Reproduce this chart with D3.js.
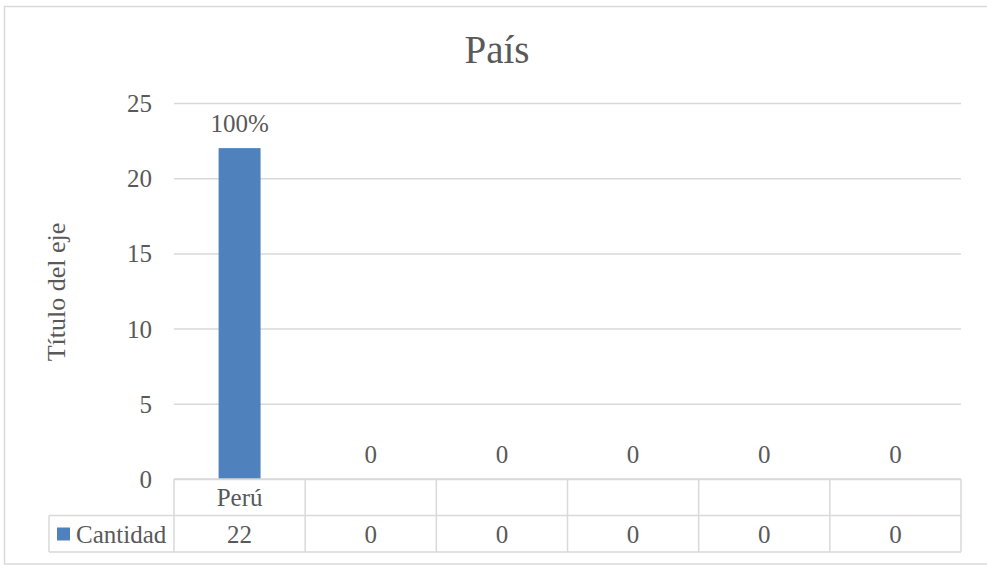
<!DOCTYPE html>
<html>
<head>
<meta charset="utf-8">
<script src="https://cdn.jsdelivr.net/npm/d3@7"></script>
<style>
  html, body { margin: 0; padding: 0; background: #fff; }
  svg text { font-family: "Liberation Serif", "Times New Roman", serif; fill: #595959; }
</style>
</head>
<body>
<svg id="chart" width="987" height="566" font-family="Liberation Serif, serif"></svg>
<script>
const title = "País";
const yAxisTitle = "Título del eje";
const seriesName = "Cantidad";
const categories = ["Perú", "", "", "", "", ""];
const values = [22, 0, 0, 0, 0, 0];
const dataLabels = ["100%", "0", "0", "0", "0", "0"];
const yTicks = [0, 5, 10, 15, 20, 25];

const svg = d3.select("#chart");
const plot = { left: 174, right: 961, top: 103, bottom: 479 };
const rowH = 36.5;
const grid = "#d9d9d9";
const fs = 25;

// outer border
svg.append("rect").attr("x", 4.5).attr("y", 6.5).attr("width", 990).attr("height", 557.5)
  .attr("fill", "#fff").attr("stroke", grid).attr("stroke-width", 1.5);

const idx = categories.map((d, i) => i);
const x = d3.scaleBand().domain(idx).range([plot.left, plot.right]).paddingInner(0).paddingOuter(0);
const y = d3.scaleLinear().domain([0, 25]).range([plot.bottom, plot.top]);

// gridlines + y labels via axis
const yAxis = d3.axisLeft(y).tickValues(yTicks).tickSize(-(plot.right - plot.left)).tickPadding(22);
const gy = svg.append("g").attr("transform", `translate(${plot.left},0)`).call(yAxis)
  .attr("font-family", null).attr("font-size", null);
gy.select(".domain").remove();
gy.selectAll(".tick line").attr("stroke", grid).attr("stroke-width", 1.5);
gy.selectAll(".tick text").attr("font-size", fs).attr("fill", "#595959").attr("dy", "0.34em");

// title
svg.append("text").attr("x", 497).attr("y", 63).attr("text-anchor", "middle")
  .attr("font-size", 39).text(title);

// y axis title
svg.append("text").attr("transform", `translate(65,292) rotate(-90)`)
  .attr("text-anchor", "middle").attr("font-size", 26).text(yAxisTitle);

// bars
const barW = x.bandwidth() * 0.32;
svg.append("g").selectAll("rect").data(values).join("rect")
  .attr("x", (d, i) => x(i) + (x.bandwidth() - barW) / 2)
  .attr("y", d => y(d))
  .attr("width", barW)
  .attr("height", d => y(0) - y(d))
  .attr("fill", "#4f81bd");

// data labels
svg.append("g").selectAll("text").data(values).join("text")
  .attr("x", (d, i) => x(i) + x.bandwidth() / 2)
  .attr("y", d => y(d) - 16)
  .attr("text-anchor", "middle").attr("font-size", fs)
  .text((d, i) => dataLabels[i]);

// data table
const t = svg.append("g").attr("stroke", grid).attr("stroke-width", 1.5).attr("fill", "none");
const legendLeft = 49;
const r1 = plot.bottom, r2 = plot.bottom + rowH, r3 = plot.bottom + 2 * rowH;
t.append("line").attr("x1", plot.left).attr("x2", plot.right).attr("y1", r1).attr("y2", r1);
t.append("line").attr("x1", legendLeft).attr("x2", plot.right).attr("y1", r2).attr("y2", r2);
t.append("line").attr("x1", legendLeft).attr("x2", plot.right).attr("y1", r3).attr("y2", r3);
t.append("line").attr("x1", legendLeft).attr("x2", legendLeft).attr("y1", r2).attr("y2", r3);
const edges = idx.map(i => x(i)).concat([plot.right]);
t.selectAll(".v").data(edges).join("line").attr("class", "v")
  .attr("x1", d => d).attr("x2", d => d).attr("y1", r1).attr("y2", r3);

// category row
svg.append("g").selectAll("text").data(categories).join("text")
  .attr("x", (d, i) => x(i) + x.bandwidth() / 2).attr("y", r1 + 27)
  .attr("text-anchor", "middle").attr("font-size", fs).text(d => d);

// values row
svg.append("g").selectAll("text").data(values).join("text")
  .attr("x", (d, i) => x(i) + x.bandwidth() / 2).attr("y", r2 + 27)
  .attr("text-anchor", "middle").attr("font-size", fs).text(d => d);

// legend key
svg.append("rect").attr("x", 57).attr("y", r2 + 12).attr("width", 13).attr("height", 13).attr("fill", "#4f81bd");
svg.append("text").attr("x", 76).attr("y", r2 + 27).attr("font-size", fs).text(seriesName);
</script>
</body>
</html>
